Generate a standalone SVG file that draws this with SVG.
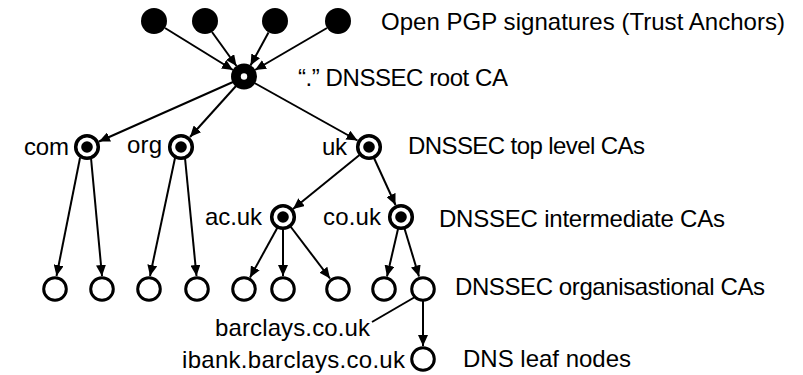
<svg xmlns="http://www.w3.org/2000/svg" width="803" height="375" viewBox="0 0 803 375">
<style>
text{font-family:"Liberation Sans",Arial,sans-serif;font-size:24px;fill:#000}
.lbl{text-anchor:end}
.anchor{fill:#000;stroke:none}
.ring{fill:#fff;stroke:#000;stroke-width:3.5}
.dot{fill:#000}
.leaf{fill:#fff;stroke:#000;stroke-width:3}
.root{fill:#000}
.hole{fill:#fff}
#connectors line{stroke:#000;stroke-width:2;fill:none}
#connectors line.arr{marker-end:url(#ah)}
</style>
<defs>
<marker id="ah" markerUnits="userSpaceOnUse" markerWidth="11" markerHeight="10" refX="11" refY="5" orient="auto">
<path d="M0,0 L11,5 L0,10 z" fill="#000"/>
</marker>
</defs>
<g id="connectors">
<line class="arr" x1="165" y1="28" x2="233" y2="70"/>
<line class="arr" x1="212" y1="32" x2="236.5" y2="66"/>
<line class="arr" x1="268.5" y1="32.5" x2="250.5" y2="65.5"/>
<line class="arr" x1="327" y1="28" x2="255" y2="70"/>
<line class="arr" x1="233" y1="82" x2="99" y2="141.5"/>
<line class="arr" x1="236" y1="86" x2="190" y2="137"/>
<line class="arr" x1="254.5" y1="83" x2="357.5" y2="140.5"/>
<line class="arr" x1="80" y1="158" x2="56.5" y2="276"/>
<line class="arr" x1="91" y1="158" x2="102" y2="276"/>
<line class="arr" x1="175" y1="158" x2="150" y2="276"/>
<line class="arr" x1="185" y1="158" x2="196.5" y2="276"/>
<line class="arr" x1="359.5" y1="155" x2="293" y2="209"/>
<line class="arr" x1="374" y1="158" x2="395.5" y2="205"/>
<line class="arr" x1="277.5" y1="227.5" x2="250" y2="277.5"/>
<line class="arr" x1="283" y1="229" x2="283" y2="276"/>
<line class="arr" x1="290.5" y1="226.5" x2="330" y2="278.5"/>
<line class="arr" x1="398" y1="229" x2="387" y2="276.5"/>
<line class="arr" x1="404.5" y1="228.5" x2="419" y2="276.5"/>
<line class="arr" x1="423" y1="301" x2="423" y2="346"/>
<line x1="415" y1="297" x2="372" y2="322"/>
</g>
<g id="ta1"><circle class="anchor" cx="154" cy="21" r="13"/></g>
<g id="ta2"><circle class="anchor" cx="205" cy="21" r="13"/></g>
<g id="ta3"><circle class="anchor" cx="275" cy="21" r="13"/></g>
<g id="ta4"><circle class="anchor" cx="338" cy="21" r="13"/></g>
<g id="root"><circle class="root" cx="244" cy="76.5" r="13"/><circle class="hole" cx="244" cy="76.5" r="3.2"/></g>
<g id="com"><circle class="ring" cx="87" cy="147" r="11.3"/><circle class="dot" cx="87" cy="147" r="5.8"/><text class="lbl" x="69" y="155" textLength="45">com</text></g>
<g id="org"><circle class="ring" cx="181" cy="147" r="11.3"/><circle class="dot" cx="181" cy="147" r="5.8"/><text class="lbl" x="162" y="153" textLength="35">org</text></g>
<g id="uk"><circle class="ring" cx="369" cy="147" r="11.3"/><circle class="dot" cx="369" cy="147" r="5.8"/><text class="lbl" x="347" y="155" textLength="25">uk</text></g>
<g id="acuk"><circle class="ring" cx="283" cy="217" r="11.3"/><circle class="dot" cx="283" cy="217" r="5.8"/><text class="lbl" x="262" y="225" textLength="57">ac.uk</text></g>
<g id="couk"><circle class="ring" cx="401" cy="217" r="11.3"/><circle class="dot" cx="401" cy="217" r="5.8"/><text class="lbl" x="381" y="225" textLength="58">co.uk</text></g>
<g id="leaf1"><circle class="leaf" cx="55" cy="289" r="11.3"/></g>
<g id="leaf2"><circle class="leaf" cx="102" cy="289" r="11.3"/></g>
<g id="leaf3"><circle class="leaf" cx="149" cy="289" r="11.3"/></g>
<g id="leaf4"><circle class="leaf" cx="197" cy="289" r="11.3"/></g>
<g id="leaf5"><circle class="leaf" cx="244" cy="289" r="11.3"/></g>
<g id="leaf6"><circle class="leaf" cx="283" cy="289" r="11.3"/></g>
<g id="leaf7"><circle class="leaf" cx="338" cy="289" r="11.3"/></g>
<g id="leaf8"><circle class="leaf" cx="384" cy="289" r="11.3"/></g>
<g id="barclays"><circle class="leaf" cx="423" cy="289" r="11.3"/><text class="lbl" x="370" y="336" textLength="155">barclays.co.uk</text></g>
<g id="ibank"><circle class="leaf" cx="423" cy="359" r="11.3"/><text class="lbl" x="405" y="368" textLength="223">ibank.barclays.co.uk</text></g>
<g id="legend">
<text x="381" y="30" textLength="404">Open PGP signatures (Trust Anchors)</text>
<text x="298" y="86" textLength="210">“.” DNSSEC root CA</text>
<text x="408" y="154" textLength="237">DNSSEC top level CAs</text>
<text x="439" y="227" textLength="286">DNSSEC intermediate CAs</text>
<text x="455" y="295" textLength="310">DNSSEC organisastional CAs</text>
<text x="463" y="367" textLength="168">DNS leaf nodes</text>
</g>
</svg>
